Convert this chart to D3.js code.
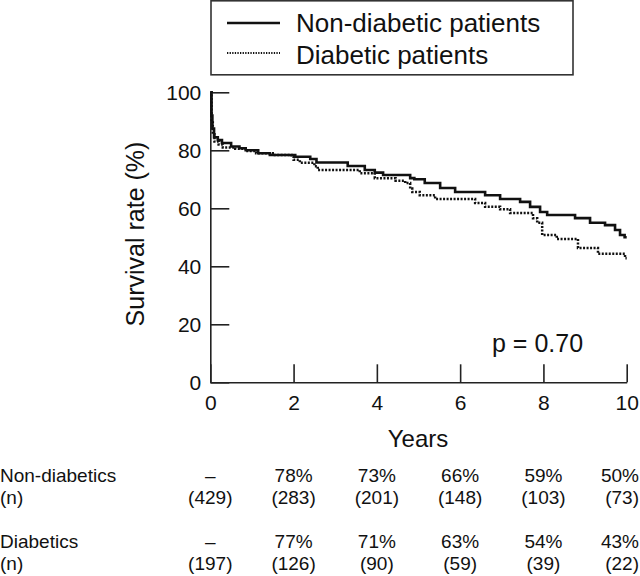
<!DOCTYPE html>
<html>
<head>
<meta charset="utf-8">
<script src="https://cdn.jsdelivr.net/npm/d3@7"></script>
<style>
  html, body { margin: 0; padding: 0; background: #fff; }
  svg { display: block; font-family: "Liberation Sans", Arial, Helvetica, sans-serif; }
</style>
</head>
<body>
<svg id="chart" width="640" height="576"></svg>
<script>
// ---- Data ----
const seriesNames = ["Non-diabetic patients", "Diabetic patients"];

const nonDiabeticYears = [0, 0.03, 0.05, 0.09, 0.18, 0.28, 0.5, 0.7, 0.85, 1.15, 1.43, 2.04, 2.4, 2.55, 3.3, 3.71, 3.95, 4.15, 4.8, 4.9, 5.15, 5.52, 5.88, 6.6, 6.96, 7.44, 7.68, 7.92, 8.09, 8.76, 9.12, 9.48, 9.72, 9.84, 9.95, 10];
const nonDiabeticSurvival = [100, 92, 87.5, 84.5, 83.5, 82.5, 81.3, 80.7, 80, 79, 78.4, 77.8, 77, 75.8, 74.6, 73.2, 72.3, 71.5, 70.4, 70, 68.7, 67, 65.6, 64.5, 63.2, 62.2, 60.5, 58.7, 57.7, 56.6, 55, 54.2, 52.5, 50.8, 50, 50];

const diabeticYears = [0, 0.03, 0.06, 0.1, 0.2, 0.3, 0.6, 0.85, 1.1, 1.5, 1.95, 2.0, 2.15, 2.5, 2.58, 3.59, 3.95, 4.45, 4.68, 4.8, 4.85, 5.03, 5.4, 6.36, 6.6, 6.96, 7.2, 7.75, 7.85, 7.97, 8.32, 8.83, 9.31, 9.96, 10];
const diabeticSurvival = [100, 90, 85.5, 83, 82, 81, 80.5, 79.8, 79, 78.4, 77.8, 76.7, 75.7, 74.5, 73.2, 72.1, 70.4, 69.5, 68.7, 66.8, 65.6, 64.5, 63.2, 61.8, 60.5, 59.7, 58.4, 56.6, 55, 50.8, 49.4, 46.3, 44.3, 42.8, 42.8];

const xTicks = [0, 2, 4, 6, 8, 10];
const yTicks = [0, 20, 40, 60, 80, 100];

const tableYears = [0, 2, 4, 6, 8, 10];
const nonDiabeticRate = ["–", "78%", "73%", "66%", "59%", "50%"];
const nonDiabeticN = ["(429)", "(283)", "(201)", "(148)", "(103)", "(73)"];
const diabeticRate = ["–", "77%", "71%", "63%", "54%", "43%"];
const diabeticN = ["(197)", "(126)", "(90)", "(59)", "(39)", "(22)"];
const tableRowLabels = ["Non-diabetics", "(n)", "Diabetics", "(n)"];

const pValueText = "p = 0.70";

// ---- Layout ----
const W = 640;
const svg = d3.select("#chart");
const x = d3.scaleLinear().domain([0, 10]).range([210.3, 626.7]);
const y = d3.scaleLinear().domain([0, 100]).range([382.3, 92.3]);

// keep a centred text inside the right edge
function clampRight(sel) {
  sel.each(function () {
    const el = d3.select(this);
    const w = this.getComputedTextLength();
    const cx = +el.attr("x") || 0;
    const ox = this.parentNode && this.parentNode.getCTM ? this.parentNode.getCTM().e : 0;
    if (ox + cx + w / 2 > W - 1) el.attr("x", W - 1 - ox - w / 2);
  });
}

// Axes
const yAxis = d3.axisLeft(y).tickValues(yTicks).tickSizeInner(-19).tickSizeOuter(0).tickPadding(9);
const xAxis = d3.axisBottom(x).tickValues(xTicks).tickSizeInner(-18).tickSizeOuter(0).tickPadding(13);

const gy = svg.append("g").attr("transform", `translate(${x(0)},0)`).call(yAxis);
const gx = svg.append("g").attr("transform", `translate(0,${y(0)})`).call(xAxis);

[gx, gy].forEach(g => {
  g.selectAll("path.domain").attr("stroke", "#222").attr("stroke-width", 1.6);
  g.selectAll(".tick line").attr("stroke", "#222").attr("stroke-width", 1.6);
  g.selectAll(".tick text").attr("fill", "#111").style("font-size", "21px")
    .style("font-family", '"Liberation Sans", Arial, Helvetica, sans-serif');
});
gx.selectAll(".tick text").each(function (d) {
  const w = this.getComputedTextLength();
  const right = x(d) + w / 2;
  if (right > W - 1) d3.select(this).attr("x", W - 1 - right);
});

// Curves
const line = d3.line().x(d => x(d[0])).y(d => y(d[1])).curve(d3.curveStepAfter);
const ndData = nonDiabeticYears.map((t, i) => [t, nonDiabeticSurvival[i]]);
const dData = diabeticYears.map((t, i) => [t, diabeticSurvival[i]]);

svg.append("path").datum(dData).attr("d", line)
  .attr("fill", "none").attr("stroke", "#111").attr("stroke-width", 2.5)
  .attr("stroke-dasharray", "2,1.5");
svg.append("path").datum(ndData).attr("d", line)
  .attr("fill", "none").attr("stroke", "#111").attr("stroke-width", 2.6);

// Axis titles
svg.append("text").attr("transform", "translate(144,234) rotate(-90)")
  .attr("text-anchor", "middle").style("font-size", "25px").attr("fill", "#111")
  .text("Survival rate (%)");
svg.append("text").attr("x", 418).attr("y", 447).attr("text-anchor", "middle")
  .style("font-size", "24px").attr("fill", "#111").text("Years");

// p-value
svg.append("text").attr("x", 492).attr("y", 352).style("font-size", "25px")
  .attr("fill", "#111").text(pValueText);

// Legend
const lg = svg.append("g");
lg.append("rect").attr("x", 211).attr("y", 0.8).attr("width", 362).attr("height", 74)
  .attr("fill", "#fff").attr("stroke", "#333").attr("stroke-width", 1.6);
const legendRows = [
  { name: seriesNames[0], ly: 23, ty: 32, dash: null, w: 2.6 },
  { name: seriesNames[1], ly: 53, ty: 64, dash: "1.3,1.3", w: 2 }
];
legendRows.forEach(r => {
  lg.append("line").attr("x1", 227).attr("x2", 280).attr("y1", r.ly).attr("y2", r.ly)
    .attr("stroke", "#111").attr("stroke-width", r.w)
    .attr("stroke-dasharray", r.dash);
  lg.append("text").attr("x", 296).attr("y", r.ty).style("font-size", "26px")
    .attr("fill", "#111").text(r.name);
});

// Table
const rowBaselines = [482, 504, 548, 570];
const rowValues = [nonDiabeticRate, nonDiabeticN, diabeticRate, diabeticN];
rowValues.forEach((vals, ri) => {
  svg.append("text").attr("x", 0).attr("y", rowBaselines[ri]).style("font-size", "19px")
    .attr("fill", "#111").text(tableRowLabels[ri]);
  svg.selectAll(null).data(vals).enter().append("text")
    .attr("x", (d, i) => x(tableYears[i]))
    .attr("y", rowBaselines[ri])
    .attr("text-anchor", "middle").style("font-size", "19px").attr("fill", "#111")
    .text(d => d)
    .call(clampRight);
});
</script>
</body>
</html>
